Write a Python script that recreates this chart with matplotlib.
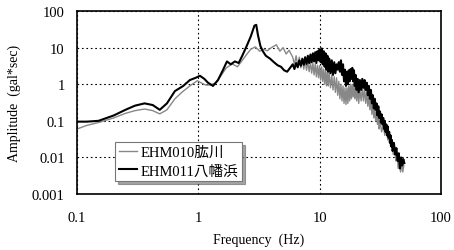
import numpy as np
import matplotlib.pyplot as plt
from matplotlib.ticker import FixedLocator, NullLocator

# EHM010 肱川 (gray)
f_010 = [0.1, 0.12, 0.15, 0.2, 0.25, 0.3, 0.36, 0.42, 0.48, 0.55, 0.64, 0.73, 0.85, 0.98,
         1.05, 1.15, 1.25, 1.4, 1.55, 1.7, 1.9, 2.1, 2.3, 2.5, 2.7, 2.95, 3.2, 3.45, 3.7,
         4.0, 4.4, 4.7, 5.0, 5.3, 5.6,
         6.0, 6.2, 6.4, 6.6, 6.8, 7.0, 7.2, 7.4, 7.6, 7.8, 8.0, 8.2, 8.4, 8.6, 8.8, 9.0,
         9.2, 9.4, 9.6, 9.8, 10.0, 10.2, 10.4, 10.6, 10.8, 11.0, 11.2, 11.4, 11.6, 11.8,
         12.0, 12.3, 12.6, 12.9, 13.2, 13.5, 13.8, 14.1, 14.4, 14.7, 15.0, 15.3, 15.6,
         15.9, 16.2, 16.5, 16.8, 17.1, 17.4, 17.7, 18.0, 18.3, 18.6, 18.9, 19.2, 19.5,
         19.8, 20.2, 20.6, 21.0, 21.5, 22, 22.5, 23, 23.5, 24, 24.5, 25, 25.5, 26, 26.5,
         27, 27.5, 28, 28.5, 29, 29.5, 30, 30.5, 31, 31.5, 32.5, 33.5, 34.5, 35.5, 36.5,
         37.5, 38.5, 39.5, 40.5, 41.5, 42.5, 43.5, 44.5, 45.5, 46.5, 47.5, 48.5, 49.5]
a_010 = [0.06, 0.075, 0.09, 0.12, 0.16, 0.19, 0.21, 0.19, 0.155, 0.2, 0.4, 0.6, 0.9, 1.25,
         1.1, 0.95, 0.95, 1.1, 1.8, 2.8, 3.6, 3.0, 4.5, 6.5, 9, 10.5, 8, 9, 8.2,
         10, 12, 8, 10, 6.7, 8.5,
         5.5, 3.5, 6, 3.2, 5.5, 2.8, 4.8, 2.6, 4.5, 2.4, 4.2, 2.2, 4, 2.0, 3.8, 1.8,
         3.6, 1.6, 3.3, 1.5, 3.2, 1.3, 3, 1.2, 2.6, 1.0, 2.4, 0.9, 2.2, 0.9,
         2.0, 0.8, 1.8, 0.7, 1.6, 0.6, 1.5, 0.5, 1.2, 0.4, 1.0, 0.35, 0.9,
         0.3, 0.8, 0.28, 0.8, 0.3, 0.9, 0.35, 1.0, 0.4, 1.0, 0.45, 1.0, 0.4,
         0.9, 0.35, 0.8, 0.3, 0.7, 0.35, 0.8, 0.35, 0.8, 0.3, 0.6, 0.25, 0.5, 0.2, 0.4,
         0.15, 0.3, 0.12, 0.22, 0.1, 0.18, 0.08, 0.14, 0.06, 0.1, 0.05, 0.08, 0.04, 0.07, 0.03,
         0.045, 0.02, 0.03, 0.012, 0.02, 0.008, 0.013, 0.005, 0.009, 0.004, 0.007, 0.004, 0.006]

# EHM011 八幡浜 (black)
f_011 = [0.1, 0.12, 0.15, 0.2, 0.25, 0.3, 0.36, 0.42, 0.48, 0.55, 0.64, 0.75, 0.85, 0.95,
         1.03, 1.12, 1.2, 1.32, 1.45, 1.6, 1.72, 1.85, 2.0, 2.15, 2.3, 2.5, 2.7, 2.9, 3.0,
         3.1, 3.25, 3.4, 3.6, 3.9, 4.2, 4.5, 4.8, 5.1, 5.4, 5.7,
         6.0, 6.2, 6.4, 6.6, 6.8, 7.0, 7.2, 7.4, 7.6, 7.8, 8.0, 8.2, 8.4, 8.6, 8.8, 9.0,
         9.2, 9.4, 9.6, 9.8, 10.0, 10.2, 10.4, 10.6, 10.8, 11.0, 11.2, 11.4, 11.6, 11.8,
         12.0, 12.3, 12.6, 12.9, 13.2, 13.5, 13.8, 14.1, 14.4, 14.7, 15.0, 15.3, 15.6,
         15.9, 16.2, 16.5, 16.8, 17.1, 17.4, 17.7, 18.0, 18.3, 18.6, 18.9, 19.2, 19.5,
         19.8, 20.2, 20.6, 21.0, 21.5, 22, 22.5, 23, 23.5, 24, 24.5, 25, 25.5, 26, 26.5,
         27, 27.5, 28, 28.5, 29, 29.5, 30, 30.5, 31, 31.5, 32, 32.5, 33, 33.5, 34, 34.5,
         35, 35.5, 36, 36.5, 37, 37.5, 38, 38.5, 39, 39.5, 40, 41, 42, 43, 44, 45, 46, 47,
         48, 49, 50]
a_011 = [0.095, 0.095, 0.1, 0.14, 0.2, 0.26, 0.30, 0.27, 0.20, 0.3, 0.65, 0.9, 1.3, 1.5,
         1.7, 1.4, 1.1, 0.9, 1.3, 2.5, 4.2, 3.5, 4.2, 3.8, 6, 11, 20, 40, 42,
         22, 11, 8, 6, 5, 4, 3.3, 3.0, 2.4, 2.2, 2.8,
         3.5, 2.6, 3.8, 2.9, 4.5, 3.2, 5, 3.4, 5.5, 3.6, 6, 3.8, 6.5, 4.0, 7, 4.2,
         7.5, 3.8, 8, 4.5, 9, 4, 9.5, 3.5, 8, 3, 7, 2.5, 6, 2.2,
         5, 2.0, 4.5, 1.8, 4, 2.0, 3.5, 2.5, 4, 2.2, 4.5, 1.8, 3.5,
         1.2, 2.5, 0.9, 2.2, 1.0, 2.4, 1.2, 2.6, 1.4, 2.8, 1.2, 2.4, 0.9,
         1.8, 0.7, 1.4, 0.6, 1.3, 0.7, 1.4, 0.8, 1.3, 0.7, 1.1, 0.5, 0.9, 0.4, 0.7,
         0.3, 0.5, 0.22, 0.4, 0.2, 0.3, 0.14, 0.25, 0.12, 0.18, 0.09, 0.15, 0.08, 0.12, 0.06, 0.1,
         0.05, 0.08, 0.04, 0.07, 0.035, 0.05, 0.025, 0.04, 0.02, 0.03, 0.015, 0.025, 0.012, 0.018,
         0.008, 0.013, 0.005, 0.01, 0.006, 0.009, 0.007]

x_ticks = [0.1, 1, 10, 100]
x_labels = ['0.1', '1', '10', '100']
y_ticks = [0.001, 0.01, 0.1, 1, 10, 100]
y_labels = ['0.001', '0.01', '0.1', '1', '10', '100']

plt.rcParams['font.family'] = ['Liberation Serif', 'Noto Sans CJK JP']

fig = plt.figure(figsize=(4.54, 2.51), dpi=100)
ax = fig.add_axes([0.170, 0.223, 0.801, 0.729])

ax.plot(f_010, a_010, color='#888888', lw=1.0, label='EHM010肱川')
ax.plot(f_011, a_011, color='black', lw=1.5, label='EHM011八幡浜')

ax.set_xscale('log')
ax.set_yscale('log')
ax.set_xlim(0.1, 100)
ax.set_ylim(0.001, 100)
ax.xaxis.set_major_locator(FixedLocator(x_ticks))
ax.yaxis.set_major_locator(FixedLocator(y_ticks))
ax.xaxis.set_minor_locator(NullLocator())
ax.yaxis.set_minor_locator(NullLocator())
ax.set_xticklabels(x_labels)
ax.set_yticklabels(y_labels)
ax.tick_params(length=0, labelsize=10.5, pad=9)
ax.tick_params(axis='x', pad=12)
ax.grid(True, which='major', color='black', ls=(0, (1.5, 2.5)), lw=0.8)
for s in ax.spines.values():
    s.set_linewidth(1.2)

ax.set_xlabel('Frequency  (Hz)', fontsize=10, labelpad=6)
ax.set_ylabel('Amplitude  (gal*sec)', fontsize=10, labelpad=8)

leg = ax.legend(loc='lower left', bbox_to_anchor=(0.085, 0.03), fontsize=10.5,
                fancybox=False, shadow=True, framealpha=1, edgecolor='#777777',
                handlelength=1.2, handletextpad=0.3, borderpad=0.25, labelspacing=0.35)
leg.get_frame().set_linewidth(0.8)

fig.savefig('out.png', dpi=100)
